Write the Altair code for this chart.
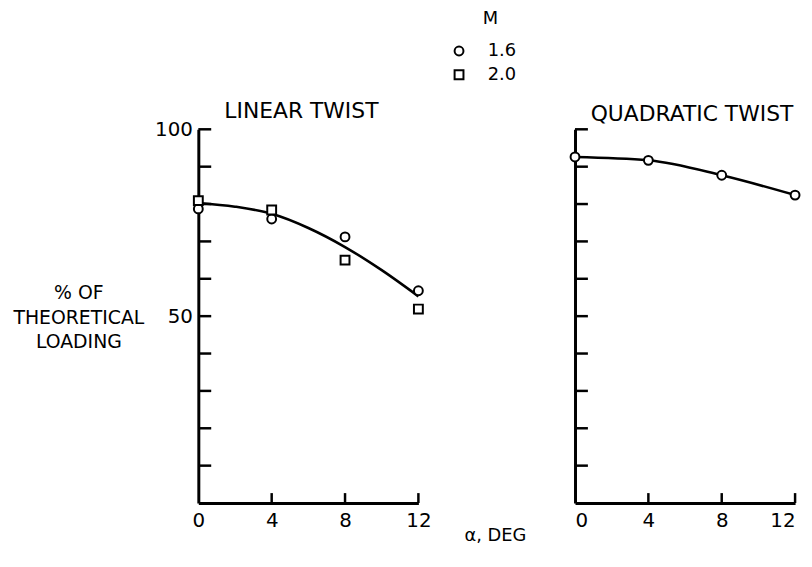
import altair as alt
import pandas as pd

# ---- data ----
alpha = [0, 4, 8, 12]
linear_m16 = [78.7, 76.0, 71.2, 56.8]
linear_m20 = [80.9, 78.4, 65.0, 51.9]
curve_alpha = [0, 2, 4, 6, 8, 10, 12]
linear_fair = [80.3, 79.3, 77.4, 73.6, 68.5, 62.3, 55.3]
quad_m16 = [92.6, 91.7, 87.7, 82.4]
y_ticks = [10, 20, 30, 40, 50, 60, 70, 80, 90, 100]
x_ticks = [0, 4, 8, 12]
x_inner_ticks = [4, 8, 12]
mach = ["1.6", "2.0"]

W, H = 222, 377
FONT = "DejaVu Sans"
FS_T, FS_L, FS_Y, FS_LEG = 22, 20, 19, 18

lin_pts = pd.DataFrame({
    "alpha": alpha + alpha,
    "load": linear_m16 + linear_m20,
    "M": [mach[0]] * 4 + [mach[1]] * 4,
})
lin_curve = pd.DataFrame({"alpha": curve_alpha, "load": linear_fair})
quad_pts = pd.DataFrame({"alpha": alpha, "load": quad_m16, "M": [mach[0]] * 4})
yt = pd.DataFrame({"v": y_ticks})
xt = pd.DataFrame({"v": x_inner_ticks})

xscale = alt.Scale(domain=[0, 12], nice=False, zero=False)
yscale = alt.Scale(domain=[0, 100], nice=False, zero=False)
shape_scale = alt.Scale(domain=mach, range=["circle", "square"])


def panel(curve_df, pts_df, title, left):
    if left:
        yaxis = alt.Axis(values=y_ticks, ticks=False, domainWidth=3, domainColor="black",
                         labelExpr="datum.value == 50 || datum.value == 100 ? datum.label : ''",
                         labelFont=FONT, labelFontSize=FS_L, labelColor="black", labelPadding=6,
                         grid=False, title=["% OF", "THEORETICAL", "LOADING"],
                         titleAngle=0, titleFont=FONT, titleFontSize=FS_Y, titleFontWeight="normal",
                         titleColor="black", titleX=-121, titleY=165, titleAlign="center",
                         titleBaseline="middle", titleLineHeight=24.5)
        xaxis = alt.Axis(values=x_ticks, ticks=False, domainWidth=3, domainColor="black",
                         labelFont=FONT, labelFontSize=FS_L, labelColor="black", labelPadding=8,
                         grid=False, title=None, labelFlush=False)
    else:
        yaxis = alt.Axis(values=y_ticks, ticks=False, labels=False, domainWidth=3,
                         domainColor="black", grid=False, title=None)
        xaxis = alt.Axis(values=x_ticks, ticks=False, domainWidth=3, domainColor="black",
                         labelFont=FONT, labelFontSize=FS_L, labelColor="black", labelPadding=8,
                         grid=False, title=None, labelFlush=True)

    line = alt.Chart(curve_df).mark_line(color="black", strokeWidth=2.6, interpolate="monotone").encode(
        x=alt.X("alpha:Q", scale=xscale, axis=xaxis),
        y=alt.Y("load:Q", scale=yscale, axis=yaxis),
    )
    pts = alt.Chart(pts_df).mark_point(filled=False, color="black", fill="white", fillOpacity=1,
                                       strokeWidth=2, size=80, opacity=1).encode(
        x=alt.X("alpha:Q", scale=xscale),
        y=alt.Y("load:Q", scale=yscale),
        shape=alt.Shape("M:N", scale=shape_scale,
                        legend=alt.Legend(orient="none", legendX=254, legendY=-120, padding=0,
                                          title="M", titleFont=FONT, titleFontSize=FS_LEG,
                                          titleFontWeight="normal", titleAnchor="middle",
                                          titleAlign="left", titleColor="black", titlePadding=14,
                                          labelFont=FONT, labelFontSize=FS_LEG, labelColor="black",
                                          labelOffset=20, symbolStrokeWidth=2, symbolSize=80,
                                          rowPadding=6)),
    )
    yt_r = alt.Chart(yt).mark_rule(color="black", strokeWidth=2.5).encode(
        y=alt.Y("v:Q", scale=yscale), x=alt.value(0), x2=alt.value(13))
    xt_r = alt.Chart(xt).mark_rule(color="black", strokeWidth=2.5).encode(
        x=alt.X("v:Q", scale=xscale), y=alt.value(H), y2=alt.value(H - 10))
    return alt.layer(yt_r, xt_r, line, pts).properties(
        width=W, height=H,
        title=alt.TitleParams(title, font=FONT, fontSize=FS_T, fontWeight="normal", color="black",
                              offset=-4 if left else 2, frame="group", dx=-7 if left else 7),
    )


left = panel(lin_curve, lin_pts, "LINEAR TWIST", True)
right = panel(quad_pts, quad_pts, "QUADRATIC TWIST", False)

chart = alt.hconcat(left, right, spacing=136).resolve_scale(shape="shared").properties(
    title=alt.TitleParams("α, DEG", orient="bottom", anchor="middle", dx=88, offset=-4,
                          font=FONT, fontSize=18, fontWeight="normal", color="black"),
    padding={"left": 4, "top": 0, "right": 0, "bottom": 0},
).configure(background="white", view=alt.ViewConfig(stroke=None))

chart.save("out.html", embed_options={"renderer": "svg", "actions": False})
